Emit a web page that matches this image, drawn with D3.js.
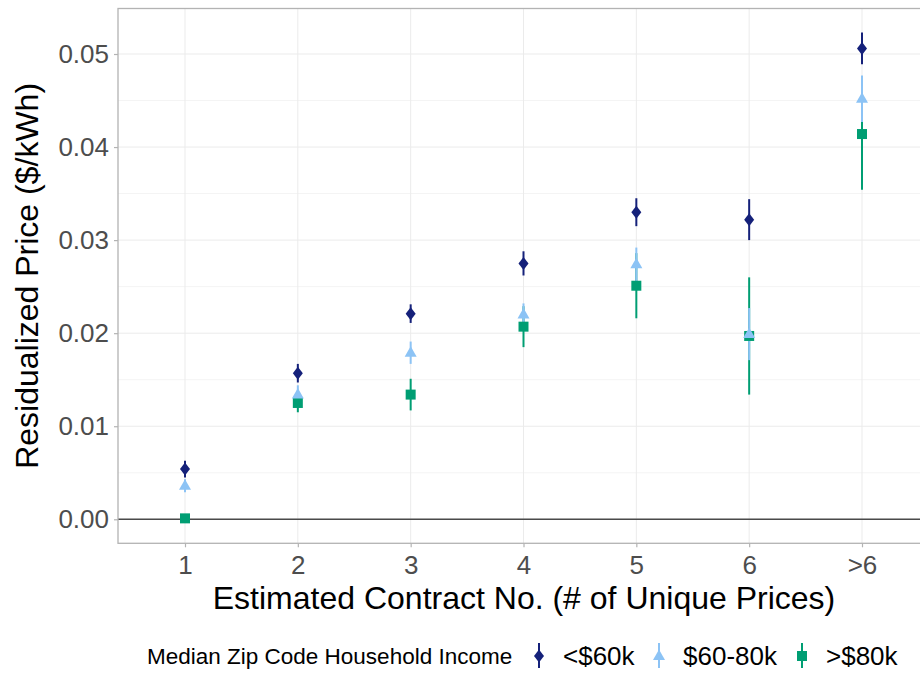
<!DOCTYPE html>
<html>
<head>
<meta charset="utf-8">
<script src="https://cdn.jsdelivr.net/npm/d3@7"></script>
<style>
  body { margin: 0; background: #fff; }
  svg { display: block; font-family: "Liberation Sans", Arial, sans-serif; }
  .grid line { stroke: #ebebeb; stroke-width: 1px; }
  .grid .minor { stroke: #f4f4f4; }
  .axis text { fill: #4d4d4d; }
  .axis line { stroke: #b3b3b3; }
  .axis path { display: none; }
</style>
</head>
<body>
<svg width="920" height="673"></svg>
<script>
// contract number categories
var categories = ["1", "2", "3", "4", "5", "6", ">6"];

// point estimates and half-widths of the intervals, by income group
var lowIncome = [0.0054, 0.0157, 0.0221, 0.0275, 0.0330, 0.0322, 0.0506];
var lowIncomeErr = [0.0009, 0.0010, 0.0010, 0.0013, 0.0015, 0.0022, 0.0017];
var midIncome = [0.0036, 0.0134, 0.0179, 0.0220, 0.0274, 0.0199, 0.0452];
var midIncomeErr = [0.0007, 0.0010, 0.0012, 0.0012, 0.0018, 0.0028, 0.0025];
var highIncome = [0.0001, 0.0125, 0.0134, 0.0207, 0.0251, 0.0197, 0.0414];
var highIncomeErr = [0.0003, 0.0010, 0.0017, 0.0022, 0.0035, 0.0063, 0.0060];

var groupLabels = ["<$60k", "$60-80k", ">$80k"];
var yTicks = [0, 0.01, 0.02, 0.03, 0.04, 0.05];
var yMinorTicks = [0.005, 0.015, 0.025, 0.035, 0.045];

var groups = [
  {label: groupLabels[0], values: lowIncome, err: lowIncomeErr, color: "#15217a", shape: "diamond"},
  {label: groupLabels[1], values: midIncome, err: midIncomeErr, color: "#8cc3f5", shape: "triangle"},
  {label: groupLabels[2], values: highIncome, err: highIncomeErr, color: "#009e73", shape: "square"}
];

var svg = d3.select("svg");
var panel = {left: 118, right: 930, top: 8.5, bottom: 543.3};

var x = d3.scalePoint()
    .domain(categories)
    .range([185, 862]);

var y = d3.scaleLinear()
    .domain([-0.00258, 0.05489])
    .range([panel.bottom, panel.top]);

// grid
var grid = svg.append("g").attr("class", "grid");
grid.selectAll(".minor").data(yMinorTicks).enter().append("line")
    .attr("class", "minor")
    .attr("x1", panel.left).attr("x2", panel.right)
    .attr("y1", function(d) { return y(d); }).attr("y2", function(d) { return y(d); });
grid.selectAll(".hmajor").data(yTicks).enter().append("line")
    .attr("class", "hmajor")
    .attr("x1", panel.left).attr("x2", panel.right)
    .attr("y1", function(d) { return y(d); }).attr("y2", function(d) { return y(d); });
grid.selectAll(".vmajor").data(categories).enter().append("line")
    .attr("class", "vmajor")
    .attr("x1", function(d) { return x(d); }).attr("x2", function(d) { return x(d); })
    .attr("y1", panel.top).attr("y2", panel.bottom);

// zero reference line
svg.append("line")
    .attr("x1", panel.left).attr("x2", panel.right)
    .attr("y1", y(0)).attr("y2", y(0))
    .attr("stroke", "#4a4a4a")
    .attr("stroke-width", 1.6);

// axes
svg.append("g")
    .attr("class", "axis")
    .attr("transform", "translate(" + panel.left + ",0)")
    .call(d3.axisLeft(y).tickValues(yTicks).tickFormat(d3.format(".2f")).tickSize(4).tickPadding(5))
    .selectAll("text").style("font-size", "26px");

svg.append("g")
    .attr("class", "axis")
    .attr("transform", "translate(0," + panel.bottom + ")")
    .call(d3.axisBottom(x).tickSize(4).tickPadding(8))
    .selectAll("text").style("font-size", "26px");

svg.selectAll(".axis line").attr("stroke-width", 1.2);

// panel border
svg.append("rect")
    .attr("x", panel.left).attr("y", panel.top)
    .attr("width", panel.right - panel.left).attr("height", panel.bottom - panel.top)
    .attr("fill", "none")
    .attr("stroke", "#b3b3b3")
    .attr("stroke-width", 1.3);

// axis titles
svg.append("text")
    .attr("x", (panel.left + panel.right) / 2)
    .attr("y", 609)
    .attr("text-anchor", "middle")
    .style("font-size", "32px")
    .text("Estimated Contract No. (# of Unique Prices)");

svg.append("text")
    .attr("transform", "translate(38," + (panel.top + panel.bottom) / 2 + ") rotate(-90)")
    .attr("text-anchor", "middle")
    .style("font-size", "32px")
    .text("Residualized Price ($/kWh)");

function symbolPath(shape) {
  if (shape === "diamond") return "M0,-6.5L5,0L0,6.5L-5,0Z";
  if (shape === "triangle") return "M0,-6.5L6,4L-6,4Z";
  return "M-5,-5H5V5H-5Z";
}

// error bars first (top group last), then points
var drawOrder = groups.slice().reverse();
var bars = svg.append("g");
var points = svg.append("g");
drawOrder.forEach(function(g) {
  bars.selectAll(null).data(categories).enter().append("line")
      .attr("x1", function(d) { return x(d); })
      .attr("x2", function(d) { return x(d); })
      .attr("y1", function(d, i) { return y(g.values[i] - g.err[i]); })
      .attr("y2", function(d, i) { return y(g.values[i] + g.err[i]); })
      .attr("stroke", g.color)
      .attr("stroke-width", 2);
  points.selectAll(null).data(categories).enter().append("path")
      .attr("transform", function(d, i) { return "translate(" + x(d) + "," + y(g.values[i]) + ")"; })
      .attr("d", symbolPath(g.shape))
      .attr("fill", g.color);
});

// legend
var legend = svg.append("g");
legend.append("text")
    .attr("x", 147).attr("y", 664)
    .style("font-size", "22.5px")
    .text("Median Zip Code Household Income");

var keyX = [539, 659, 802];
groups.forEach(function(g, i) {
  var key = legend.append("g").attr("transform", "translate(" + keyX[i] + ",656)");
  key.append("line")
      .attr("y1", -13).attr("y2", 12)
      .attr("stroke", g.color)
      .attr("stroke-width", 2);
  key.append("path")
      .attr("d", symbolPath(g.shape))
      .attr("fill", g.color);
  legend.append("text")
      .attr("x", keyX[i] + 24).attr("y", 665)
      .style("font-size", "26px")
      .text(g.label);
});
</script>
</body>
</html>
